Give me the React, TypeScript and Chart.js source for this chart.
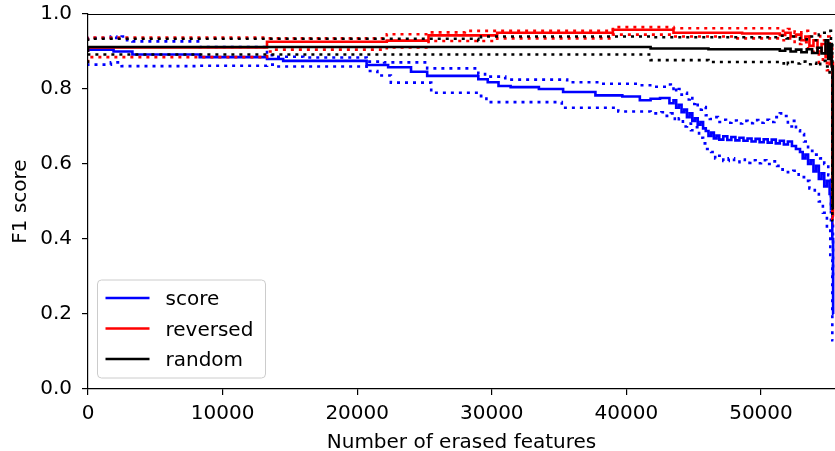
import React, { useEffect, useRef } from 'react';
import { Chart, registerables } from 'chart.js';

Chart.register(...registerables);

// ---------- data ----------
const X_MAX = 55500;
const xTicks = [0, 10000, 20000, 30000, 40000, 50000];
const yTicks = [0, 0.2, 0.4, 0.6, 0.8, 1.0];
const xTitle = 'Number of erased features';
const yTitle = 'F1 score';
const seriesNames = ['score', 'reversed', 'random'];
const seriesColors = ['#0000ff', '#ff0000', '#000000'];

// score (blue): mean, upper, lower  — [erased features, F1]
const scoreMean: [number, number][] = [
  [0, 0.9], [1900, 0.905], [3300, 0.9], [8300, 0.892], [13300, 0.885], [14500, 0.88],
  [20700, 0.875], [22300, 0.864], [24000, 0.858], [25200, 0.846], [29000, 0.835],
  [29700, 0.826], [30500, 0.818], [31400, 0.808], [33500, 0.805], [35300, 0.8],
  [37700, 0.792], [39700, 0.783], [41000, 0.78], [41800, 0.77], [42500, 0.774],
  [43200, 0.776], [43500, 0.762], [43700, 0.77], [43900, 0.75], [44100, 0.758],
  [44300, 0.738], [44500, 0.745], [44700, 0.725], [44900, 0.735], [45100, 0.715],
  [45300, 0.722], [45500, 0.705], [45700, 0.712], [45900, 0.695], [46100, 0.688],
  [46300, 0.675], [46500, 0.684], [46700, 0.668], [46900, 0.676], [47200, 0.665],
  [47500, 0.674], [47800, 0.664], [48100, 0.672], [48400, 0.663], [48700, 0.67],
  [49000, 0.662], [49300, 0.668], [49600, 0.66], [49900, 0.667], [50200, 0.658],
  [50500, 0.666], [50800, 0.657], [51100, 0.665], [51400, 0.655], [51700, 0.662],
  [52000, 0.652], [52300, 0.66], [52600, 0.648], [52900, 0.64], [53100, 0.632],
  [53300, 0.615], [53500, 0.625], [53700, 0.6], [53900, 0.61], [54100, 0.58],
  [54300, 0.595], [54500, 0.56], [54700, 0.575], [54900, 0.54], [55100, 0.555],
  [55200, 0.52], [55300, 0.48], [55360, 0.4], [55400, 0.2],
];
const scoreUpper: [number, number][] = [
  [0, 0.93], [1700, 0.936], [2100, 0.94], [2500, 0.936], [2900, 0.94], [3300, 0.93],
  [8300, 0.927], [13300, 0.912], [14000, 0.89], [16000, 0.886], [20700, 0.884],
  [22000, 0.873], [25200, 0.871], [29000, 0.855], [29500, 0.84], [31000, 0.833],
  [35600, 0.825], [38000, 0.818], [41000, 0.814], [42000, 0.81], [43000, 0.806],
  [43300, 0.812], [43500, 0.8], [43700, 0.806], [43900, 0.792], [44100, 0.8],
  [44300, 0.785], [44500, 0.79], [44700, 0.772], [44900, 0.78], [45100, 0.76],
  [45300, 0.765], [45600, 0.745], [45900, 0.752], [46200, 0.73], [46500, 0.72],
  [46800, 0.725], [47100, 0.712], [47400, 0.718], [47800, 0.71], [48200, 0.716],
  [48600, 0.708], [49000, 0.715], [49400, 0.709], [49800, 0.717], [50200, 0.71],
  [50600, 0.718], [51000, 0.712], [51400, 0.725], [51700, 0.735], [52000, 0.728],
  [52300, 0.7], [52600, 0.715], [52900, 0.69], [53200, 0.68], [53500, 0.66],
  [53800, 0.645], [54100, 0.635], [54400, 0.625], [54700, 0.615], [55000, 0.6],
  [55200, 0.57], [55350, 0.45], [55420, 0.3],
];
const scoreLower: [number, number][] = [
  [0, 0.869], [1700, 0.865], [2500, 0.871], [8300, 0.861], [13300, 0.862],
  [14000, 0.865], [20700, 0.86], [21500, 0.848], [22500, 0.836], [25500, 0.817],
  [29200, 0.79], [29600, 0.781], [35200, 0.765], [39400, 0.75], [41800, 0.74],
  [42600, 0.735], [43000, 0.738], [43300, 0.728], [43600, 0.735], [43900, 0.715],
  [44200, 0.722], [44500, 0.7], [44800, 0.708], [45100, 0.69], [45400, 0.698],
  [45700, 0.67], [46000, 0.655], [46300, 0.64], [46600, 0.632], [46900, 0.615],
  [47200, 0.622], [47600, 0.608], [48000, 0.615], [48400, 0.605], [48800, 0.612],
  [49200, 0.603], [49600, 0.61], [50000, 0.602], [50400, 0.61], [50800, 0.6],
  [51200, 0.607], [51600, 0.595], [52000, 0.585], [52400, 0.578], [52800, 0.582],
  [53200, 0.565], [53600, 0.555], [54000, 0.535], [54300, 0.52], [54600, 0.5],
  [54900, 0.47], [55150, 0.43], [55300, 0.35], [55380, 0.13],
];

// reversed (red)
const reversedMean: [number, number][] = [
  [0, 0.9], [13300, 0.911], [22200, 0.926], [25300, 0.929], [30400, 0.943],
  [39000, 0.95], [43500, 0.958], [48600, 0.95], [51400, 0.948], [51800, 0.944],
  [52200, 0.95], [52600, 0.94], [53000, 0.945], [53300, 0.93], [53600, 0.94],
  [53900, 0.915], [54200, 0.93], [54500, 0.9], [54800, 0.92], [55000, 0.885],
  [55200, 0.91], [55350, 0.87], [55420, 0.46],
];
const reversedUpper: [number, number][] = [
  [0, 0.93], [13300, 0.937], [22200, 0.935], [25300, 0.946], [28000, 0.951],
  [39000, 0.955], [43500, 0.965], [51500, 0.962], [52000, 0.955], [52500, 0.96],
  [53000, 0.95], [53500, 0.955], [54000, 0.94], [54400, 0.948], [54800, 0.93],
  [55100, 0.94], [55300, 0.92], [55430, 0.5],
];
const reversedLower: [number, number][] = [
  [0, 0.87], [13300, 0.885], [13800, 0.9], [22200, 0.905], [25300, 0.911],
  [30400, 0.928], [39000, 0.935], [43500, 0.945], [48000, 0.94], [51400, 0.935],
  [52000, 0.93], [52500, 0.935], [53000, 0.92], [53500, 0.925], [53900, 0.9],
  [54300, 0.91], [54600, 0.87], [54900, 0.89], [55100, 0.85], [55300, 0.87],
  [55420, 0.44],
];

// random (black)
const randomMean: [number, number][] = [
  [0, 0.899], [41800, 0.912], [46100, 0.908], [51400, 0.906], [51800, 0.902],
  [52200, 0.907], [52600, 0.9], [53000, 0.905], [53400, 0.898], [53800, 0.906],
  [54200, 0.896], [54500, 0.91], [54800, 0.895], [55000, 0.93], [55150, 0.88],
  [55250, 0.92], [55330, 0.86], [55380, 0.48],
];
const randomUpper: [number, number][] = [
  [0, 0.928], [29000, 0.934], [29200, 0.928], [41800, 0.94], [51400, 0.938],
  [51900, 0.942], [52400, 0.935], [52900, 0.94], [53400, 0.932], [53900, 0.94],
  [54300, 0.93], [54700, 0.945], [55000, 0.95], [55200, 0.955], [55300, 0.93],
  [55390, 0.55],
];
const randomLower: [number, number][] = [
  [0, 0.869], [41800, 0.892], [46100, 0.877], [51400, 0.872], [51700, 0.868],
  [52000, 0.874], [52200, 0.866], [52500, 0.872], [52900, 0.868], [53300, 0.873],
  [53700, 0.866], [54100, 0.87], [54400, 0.862], [54800, 0.875], [55100, 0.86],
  [55300, 0.84], [55380, 0.45],
];

const FONT = { family: 'DejaVu Sans', size: 20, lineHeight: 1.0 };

export default function App() {
  const ref = useRef<HTMLCanvasElement>(null);

  useEffect(() => {
    if (!ref.current) return;
    const pts = (a: [number, number][]) => a.map(([x, y]) => ({ x, y }));
    const ds = (a: [number, number][], color: string, dotted: boolean) => ({
      data: pts(a),
      borderColor: color,
      backgroundColor: color,
      borderWidth: 2.6,
      borderDash: dotted ? [3, 5] : [],
      pointRadius: 0,
      stepped: 'after' as const,
      fill: false,
    });

    const framePlugin = {
      id: 'frameAndLegend',
      afterDraw(chart: any) {
        const { ctx, chartArea } = chart;
        ctx.save();
        // top spine
        ctx.strokeStyle = '#000';
        ctx.lineWidth = 1.2;
        ctx.beginPath();
        ctx.moveTo(chartArea.left, chartArea.top + 0.5);
        ctx.lineTo(chartArea.right, chartArea.top + 0.5);
        ctx.stroke();

        // legend
        const bx = chartArea.left + 9.5;
        const bw = 168;
        const bh = 98;
        const by = chartArea.bottom - 11 - bh;
        const r = 4;
        ctx.beginPath();
        ctx.moveTo(bx + r, by);
        ctx.lineTo(bx + bw - r, by);
        ctx.arcTo(bx + bw, by, bx + bw, by + r, r);
        ctx.lineTo(bx + bw, by + bh - r);
        ctx.arcTo(bx + bw, by + bh, bx + bw - r, by + bh, r);
        ctx.lineTo(bx + r, by + bh);
        ctx.arcTo(bx, by + bh, bx, by + bh - r, r);
        ctx.lineTo(bx, by + r);
        ctx.arcTo(bx, by, bx + r, by, r);
        ctx.closePath();
        ctx.fillStyle = 'rgba(255,255,255,0.8)';
        ctx.fill();
        ctx.strokeStyle = '#cccccc';
        ctx.lineWidth = 1;
        ctx.stroke();

        ctx.font = '20px "DejaVu Sans"';
        ctx.textBaseline = 'alphabetic';
        ctx.textAlign = 'left';
        seriesNames.forEach((name, i) => {
          const ly = by + 18 + i * 30.5;
          ctx.strokeStyle = seriesColors[i];
          ctx.lineWidth = 2.5;
          ctx.beginPath();
          ctx.moveTo(bx + 8, ly);
          ctx.lineTo(bx + 52, ly);
          ctx.stroke();
          ctx.fillStyle = '#000';
          ctx.fillText(name, bx + 68, ly + 7);
        });
        ctx.restore();
      },
    };

    const tickGrid = {
      display: true,
      drawOnChartArea: false,
      drawTicks: true,
      tickLength: 6,
      color: '#000',
      lineWidth: 1.2,
    };

    const chart = new Chart(ref.current, {
      type: 'line',
      data: {
        datasets: [
          ds(randomMean, seriesColors[2], false),
          ds(randomUpper, seriesColors[2], true),
          ds(randomLower, seriesColors[2], true),
          ds(reversedMean, seriesColors[1], false),
          ds(reversedUpper, seriesColors[1], true),
          ds(reversedLower, seriesColors[1], true),
          ds(scoreMean, seriesColors[0], false),
          ds(scoreUpper, seriesColors[0], true),
          ds(scoreLower, seriesColors[0], true),
        ],
      },
      options: {
        animation: false,
        responsive: false,
        devicePixelRatio: 1,
        layout: { padding: { top: 14, right: 0, left: 0, bottom: 0 } },
        plugins: { legend: { display: false }, tooltip: { enabled: false } },
        scales: {
          x: {
            type: 'linear',
            min: 0,
            max: X_MAX,
            afterBuildTicks: (s: any) => {
              s.ticks = xTicks.map((value) => ({ value }));
            },
            ticks: {
              autoSkip: false,
              maxRotation: 0,
              padding: 9,
              color: '#000',
              font: FONT,
              callback: (v: any) => String(v),
            },
            grid: tickGrid,
            border: { display: true, color: '#000', width: 1.2 },
            title: {
              display: true,
              text: xTitle,
              color: '#000',
              font: FONT,
              padding: { top: 0, bottom: -2 },
            },
            afterFit: (s: any) => {
              s.height = 62;
              s.paddingLeft = 0;
              s.paddingRight = 0;
            },
          },
          y: {
            type: 'linear',
            min: 0,
            max: 1,
            afterBuildTicks: (s: any) => {
              s.ticks = yTicks.map((value) => ({ value }));
            },
            ticks: {
              autoSkip: false,
              padding: 10,
              color: '#000',
              font: FONT,
              callback: (v: any) => Number(v).toFixed(1),
            },
            grid: tickGrid,
            border: { display: true, color: '#000', width: 1.2 },
            title: {
              display: true,
              text: yTitle,
              color: '#000',
              font: FONT,
              padding: { top: 11, bottom: 0 },
            },
            afterFit: (s: any) => {
              s.width = 88;
              s.paddingTop = 0;
              s.paddingBottom = 0;
            },
          },
        },
      },
      plugins: [framePlugin],
    });
    return () => chart.destroy();
  }, []);

  return (
    <canvas
      ref={ref}
      width={835}
      height={451}
      style={{ position: 'absolute', left: 0, top: 0, display: 'block' }}
    />
  );
}
